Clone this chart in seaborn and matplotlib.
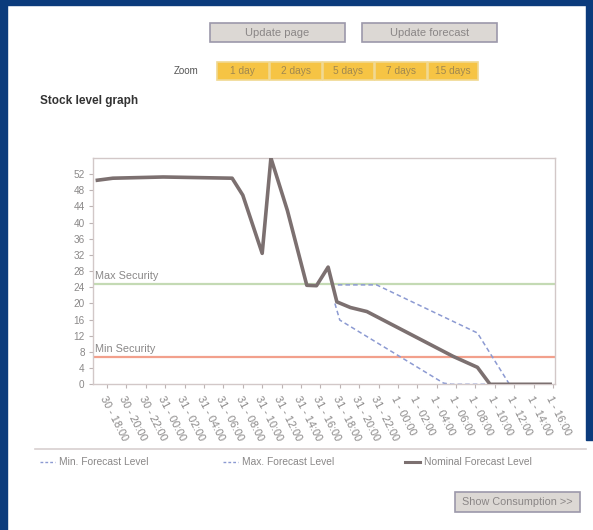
import matplotlib
matplotlib.use("Agg")
import matplotlib.pyplot as plt
import seaborn as sns
import pandas as pd
from matplotlib.patches import Rectangle
from matplotlib.lines import Line2D

# ---------------- data ----------------
tick_hours = [0, 2, 4, 6, 8, 10, 12, 14, 16, 18, 20, 22, 24, 26, 28, 30,
              32, 34, 36, 38, 40, 42, 44, 46]
tick_labels = ["30 - 18:00", "30 - 20:00", "30 - 22:00", "31 - 00:00",
               "31 - 02:00", "31 - 04:00", "31 - 06:00", "31 - 08:00",
               "31 - 10:00", "31 - 12:00", "31 - 14:00", "31 - 16:00",
               "31 - 18:00", "31 - 20:00", "31 - 22:00", "1 - 00:00",
               "1 - 02:00", "1 - 04:00", "1 - 06:00", "1 - 08:00",
               "1 - 10:00", "1 - 12:00", "1 - 14:00", "1 - 16:00"]
y_ticks = [0, 4, 8, 12, 16, 20, 24, 28, 32, 36, 40, 44, 48, 52]

nominal_hours = [-1.0, 0.6, 5.8, 12.9, 14.0, 16.0, 16.9, 18.6, 20.6, 21.6,
                 22.8, 23.7, 25.1, 26.8, 35.7, 38.2, 39.5, 45.7]
nominal_level = [50.5, 51.0, 51.3, 51.0, 46.8, 32.4, 56.0, 43.0, 24.5, 24.4,
                 29.0, 20.4, 19.0, 18.0, 6.9, 4.2, 0.0, 0.0]

max_hours = [23.8, 27.8, 38.2, 41.5, 45.7]
max_level = [24.6, 24.6, 12.7, 0.0, 0.0]

min_hours = [23.5, 24.0, 34.7, 35.5, 45.7]
min_level = [20.0, 15.9, 0.3, 0.0, 0.0]

max_security = 24.7
min_security = 6.7

zoom_buttons = ["1 day", "2 days", "5 days", "7 days", "15 days"]

# ---------------- figure ----------------
W, H = 593, 530
fig = plt.figure(figsize=(W / 100, H / 100), dpi=100)
fig.patch.set_facecolor("white")

def fx(px):
    return px / W

def fy(py):
    return 1 - py / H

FONT = ["Liberation Sans", "DejaVu Sans"]
GREY = "#8a8888"

# blue frame
frame = "#0b3b7c"
fig.add_artist(Rectangle((0, 0), fx(7), 1, transform=fig.transFigure,
                         color=frame, zorder=0))
fig.add_artist(Rectangle((0, fy(5)), 1, 5 / H, transform=fig.transFigure,
                         color=frame, zorder=0))
fig.add_artist(Rectangle((fx(586), fy(440)), fx(7), 436 / H,
                         transform=fig.transFigure, color=frame, zorder=0))

def button(x0, x1, y0, y1, label, face, edge, tcolor, fs=8):
    fig.add_artist(Rectangle((fx(x0), fy(y1)), (x1 - x0) / W, (y1 - y0) / H,
                             transform=fig.transFigure, facecolor=face,
                             edgecolor=edge, linewidth=1.2, zorder=2))
    fig.text(fx((x0 + x1) / 2), fy((y0 + y1) / 2), label, ha="center",
             va="center", fontsize=fs, color=tcolor, family=FONT, zorder=3)

button(210, 345, 23, 42, "Update page", "#dcd8d4", "#9c98aa", "#8a8686")
button(362, 497, 23, 42, "Update forecast", "#dcd8d4", "#9c98aa", "#8a8686")

fig.text(fx(199), fy(71), "Zoom", ha="right", va="center", fontsize=7,
         color="#555555", family=FONT)
yb = [217, 270, 323, 375, 428, 479]
for i, lab in enumerate(zoom_buttons):
    button(yb[i], yb[i + 1] - 1.5, 62, 80, lab, "#f6c444", "#f0d890",
           "#a08850", fs=7.3)

fig.text(fx(40), fy(101), "Stock level graph", ha="left", va="center",
         fontsize=8.5, color="#333333", fontweight="bold", family=FONT)

# ---------------- chart ----------------
ax = fig.add_axes([fx(93), fy(384.3), (555 - 93) / W, (384.3 - 158) / H])
ax.set_facecolor("white")

ax.axhline(max_security, color="#c4dab4", lw=1.6, zorder=1)
ax.axhline(min_security, color="#f2a08c", lw=1.6, zorder=1)

df_nom = pd.DataFrame({"hour": nominal_hours, "level": nominal_level})
df_max = pd.DataFrame({"hour": max_hours, "level": max_level})
df_min = pd.DataFrame({"hour": min_hours, "level": min_level})

sns.lineplot(data=df_min, x="hour", y="level", ax=ax, color="#8c9ad2",
             lw=1.1, linestyle=(0, (3, 2)), sort=False, estimator=None,
             zorder=2)
sns.lineplot(data=df_max, x="hour", y="level", ax=ax, color="#8c9ad2",
             lw=1.1, linestyle=(0, (3, 2)), sort=False, estimator=None,
             zorder=2)
sns.lineplot(data=df_nom, x="hour", y="level", ax=ax, color="#7c7070",
             lw=2.6, sort=False, estimator=None, zorder=3)

ax.set_xlim(-1.45, 46.2)
ax.set_ylim(0, 56)
ax.set_xlabel("")
ax.set_ylabel("")
ax.set_yticks(y_ticks)
ax.set_yticklabels([str(v) for v in y_ticks], fontsize=7.2, color=GREY,
                   family=FONT)
ax.set_xticks(tick_hours)
ax.set_xticklabels(tick_labels, rotation=-63, ha="left", va="top",
                   rotation_mode="anchor", fontsize=7.8, color=GREY,
                   family=FONT)
ax.tick_params(axis="both", length=3, width=0.8, color="#bdb4b4", pad=3)
ax.tick_params(axis="x", pad=4)
for s in ax.spines.values():
    s.set_color("#d2c8c8")
    s.set_linewidth(1.0)
ax.grid(False)

ax.text(-1.2, max_security + 0.8, "Max Security", fontsize=7.8, color=GREY,
        family=FONT, va="bottom", ha="left")
ax.text(-1.2, min_security + 0.8, "Min Security", fontsize=7.8, color=GREY,
        family=FONT, va="bottom", ha="left")

# ---------------- legend ----------------
fig.add_artist(Line2D([fx(35), fx(586)], [fy(449), fy(449)],
                      transform=fig.transFigure, color="#d8d0d0", lw=1.2))
leg_items = [
    (40, "Min. Forecast Level", "#8c9ad2", (0, (2, 1.5)), 1.0),
    (223, "Max. Forecast Level", "#8c9ad2", (0, (2, 1.5)), 1.0),
    (405, "Nominal Forecast Level", "#7c7070", "-", 2.2),
]
for x0, lab, col, ls, lw in leg_items:
    fig.add_artist(Line2D([fx(x0), fx(x0 + 15)], [fy(462), fy(462)],
                          transform=fig.transFigure, color=col,
                          linestyle=ls, lw=lw))
    fig.text(fx(x0 + 19), fy(462), lab, ha="left", va="center",
             fontsize=7.4, color=GREY, family=FONT)

button(455, 580, 492, 512, "Show Consumption >>", "#dcd8d4", "#9c98aa",
       "#8a8686", fs=7.8)

fig.savefig("out.png", dpi=100, facecolor="white")
